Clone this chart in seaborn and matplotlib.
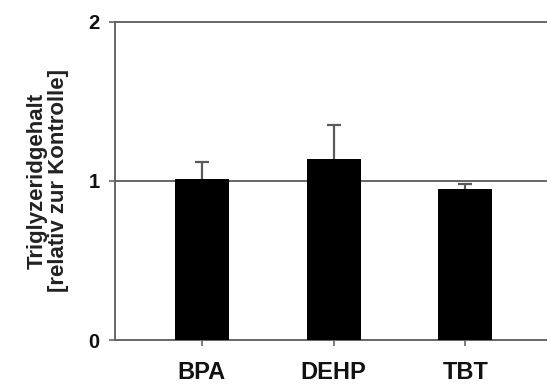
import numpy as np
import pandas as pd
import matplotlib
matplotlib.use("Agg")
import matplotlib.pyplot as plt
import seaborn as sns

# Werte
substanzen = ["BPA", "DEHP", "TBT"]
mittelwert = [1.01, 1.14, 0.95]
fehler_oben = [0.11, 0.21, 0.03]

df = pd.DataFrame({"substanz": substanzen, "wert": mittelwert})

sns.set_style("white")
plt.rcParams["font.family"] = ["Liberation Sans", "DejaVu Sans"]
plt.rcParams["font.weight"] = "bold"

fig = plt.figure(figsize=(5.47, 3.85), dpi=100)
ax = fig.add_axes([115 / 547, 1 - 340 / 385, 1 - 115 / 547, 318 / 385])

sns.barplot(data=df, x="substanz", y="wert", color="black", width=0.41,
            errorbar=None, saturation=1, edgecolor="black", linewidth=0,
            ax=ax, zorder=3)
eb = ax.errorbar(np.arange(len(substanzen)), mittelwert,
                 yerr=[np.zeros(len(substanzen)), fehler_oben],
                 fmt="none", ecolor="#5a5a5a", elinewidth=1.6, capsize=5,
                 capthick=1.6, zorder=2)
eb[1][0].set_visible(False)  # keine untere Kappe

ax.axhline(1, color="#666666", lw=1.4, zorder=1)

ax.set_ylim(0, 2)
ax.set_xlim(-0.66, 2.62)
ax.set_yticks([0, 1, 2])
ax.set_yticklabels(["0", "1", "2"], fontsize=14.5, fontweight="bold", color="#111111")
ax.set_xticks(range(len(substanzen)))
ax.set_xticklabels(substanzen, fontsize=17, fontweight="bold", color="#111111")
ax.tick_params(axis="y", direction="out", length=4, width=1.2, color="#666666", left=True, pad=7)
ax.tick_params(axis="x", direction="out", length=4, width=1.2, color="#666666", bottom=True, pad=11)

for s in ["left", "bottom", "top"]:
    ax.spines[s].set_color("#666666")
    ax.spines[s].set_linewidth(1.4)
ax.spines["right"].set_visible(False)

ax.set_xlabel("")
ax.set_ylabel("Triglyzeridgehalt\n[relativ zur Kontrolle]", fontsize=16,
              fontweight="bold", labelpad=14, color="#222222", linespacing=1.0)

fig.savefig("out.png", dpi=100)
